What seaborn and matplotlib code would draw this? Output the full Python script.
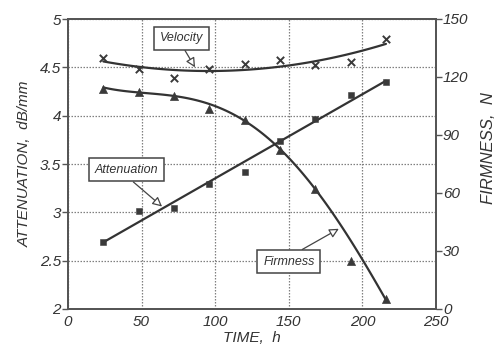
import numpy as np
import pandas as pd
import matplotlib
matplotlib.use("Agg")
import matplotlib.pyplot as plt
import seaborn as sns

# ---- data ----
time_h = [24, 48, 72, 96, 120, 144, 168, 192, 216]
velocity = [4.60, 4.48, 4.39, 4.48, 4.53, 4.58, 4.52, 4.56, 4.79]       # plotted on left scale
attenuation = [2.69, 3.01, 3.05, 3.29, 3.42, 3.74, 3.97, 4.21, 4.35]    # dB/mm
firmness = [114, 112, 110, 103.5, 98, 82.5, 62, 25, 5]                  # N
# firmness trend curve as drawn in the reference (read at the same times)
firmness_curve = [114, 113.5, 110, 104.5, 97, 84, 63.5, 33, 5.5]

x_ticks = [0, 50, 100, 150, 200, 250]
left_ticks = [2, 2.5, 3, 3.5, 4, 4.5, 5]
left_tick_labels = ["2", "2.5", "3", "3.5", "4", "4.5", "5"]
right_ticks = [0, 30, 60, 90, 120, 150]

sns.set_theme(style="white")
plt.rcParams['font.family'] = ['Liberation Sans', 'DejaVu Sans']
plt.rcParams['font.style'] = 'italic'

df = pd.DataFrame({"time": time_h, "velocity": velocity,
                   "attenuation": attenuation, "firmness": firmness,
                   "firmness_curve": firmness_curve})

fig = plt.figure(figsize=(4.96, 3.52), dpi=100)
ax = fig.add_axes([68/496, 1 - 309/352, (436-68)/496, (309-19)/352])
ax2 = ax.twinx()

line_c = "#333333"
mark_c = "#3a3a3a"

# fitted / trend curves
sns.regplot(data=df, x="time", y="velocity", order=2, ci=None, scatter=False,
            ax=ax, line_kws=dict(color=line_c, lw=1.6))
sns.regplot(data=df, x="time", y="attenuation", order=1, ci=None, scatter=False,
            ax=ax, line_kws=dict(color=line_c, lw=1.6))
sns.regplot(data=df, x="time", y="firmness_curve", order=4, ci=None, scatter=False,
            ax=ax2, line_kws=dict(color=line_c, lw=1.6))

# markers
sns.scatterplot(data=df, x="time", y="velocity", marker="x", s=28, color=mark_c,
                linewidth=1.4, ax=ax, zorder=5)
sns.scatterplot(data=df, x="time", y="attenuation", marker="s", s=22, color=mark_c,
                edgecolor=mark_c, ax=ax, zorder=5)
sns.scatterplot(data=df, x="time", y="firmness", marker="^", s=34, color=mark_c,
                edgecolor=mark_c, ax=ax2, zorder=5)

ax.set_xlim(0, 250)
ax.set_ylim(2, 5)
ax2.set_ylim(0, 150)
ax.set_xticks(x_ticks)
ax.set_yticks(left_ticks)
ax.set_yticklabels(left_tick_labels)
ax2.set_yticks(right_ticks)

for a in (ax, ax2):
    for s in a.spines.values():
        s.set_color("#555555")
        s.set_linewidth(1.3)

ax.grid(True, linestyle=(0, (1.2, 1.2)), color="#808080", linewidth=0.9)
ax.set_axisbelow(True)
ax2.grid(False)

ax.tick_params(axis="both", which="major", direction="out", length=4, width=1,
               color="#555555", labelsize=11, labelcolor="#333333", pad=1)
ax2.tick_params(axis="y", direction="out", length=4, width=1,
                color="#555555", labelsize=11, labelcolor="#333333", pad=1)
ax.tick_params(axis="x", pad=0)

ax.set_xlabel("TIME,  h", fontsize=11, color="#333333", labelpad=2)
ax.set_ylabel("ATTENUATION,  dB/mm", fontsize=11, color="#333333", labelpad=6)
ax2.set_ylabel("FIRMNESS,  N", fontsize=12, color="#333333")
ax2.yaxis.set_label_coords((481 - 68) / 368, (309 - 148) / 290)

box = dict(boxstyle="square,pad=0.45", fc="white", ec="#444444", lw=1.1)
arrow = dict(arrowstyle="-|>", fc="white", ec="#444444", lw=0.9,
             mutation_scale=14, shrinkA=0, shrinkB=0)

ax.annotate("Velocity", xy=(86.3, 4.50), xytext=(77, 4.80),
            ha="center", va="center", fontsize=9, color="#333333",
            bbox=box, arrowprops=dict(arrow, relpos=(0.5, 0.0)), zorder=6)
ax.annotate("Attenuation", xy=(63.9, 3.06), xytext=(39.5, 3.44),
            ha="center", va="center", fontsize=9, color="#333333",
            bbox=box, arrowprops=dict(arrow, relpos=(0.5, 0.0)), zorder=6)
ax.annotate("Firmness", xy=(184, 2.83), xytext=(150, 2.49),
            ha="center", va="center", fontsize=9, color="#333333",
            bbox=box, arrowprops=dict(arrow, relpos=(0.55, 1.0)), zorder=6)

fig.savefig("out.png", dpi=100)
